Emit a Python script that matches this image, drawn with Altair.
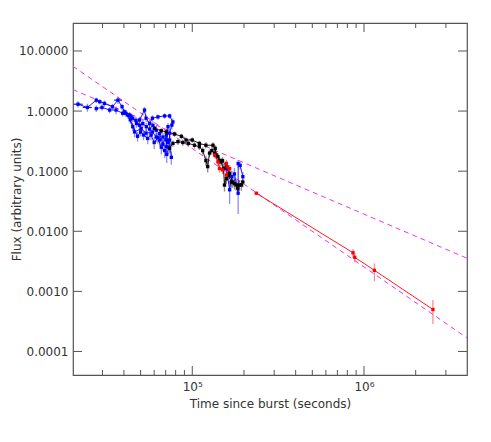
import altair as alt
import pandas as pd

# ---------------- data ----------------
# blue sequence 1 (upper band + loop)
b1_x = [21600, 24500, 27600, 28900, 30800, 34300, 36900, 39000, 40400, 43200, 45000, 47300, 49300,
        52700, 53800, 56400, 58600, 63100, 69000, 73800, 77100, 76000, 73800, 73800, 75500]
b1_y = [1.30, 1.15, 1.52, 1.43, 1.34, 1.18, 1.52, 1.18, 0.97, 0.86, 0.76, 0.62, 0.71,
        1.04, 0.76, 0.62, 0.76, 0.80, 0.83, 0.83, 0.66, 0.585, 0.43, 0.33, 0.17]
b1_e = [12, 15, 10, 10, 12, 12, 14, 12, 12, 12, 14, 15, 14, 12, 14, 15, 12, 10, 10, 10, 14, 15, 18, 20, 25]
# blue sequence 2 (lower band)
b2_x = [27600, 29800, 33000, 36000, 39300, 42000, 45000, 46100, 50400, 53800, 58600, 61700, 64500,
        67500, 70600, 70600, 72200]
b2_y = [1.10, 1.15, 1.04, 1.04, 0.92, 0.86, 0.55, 0.45, 0.51, 0.43, 0.45, 0.37, 0.33, 0.37, 0.33, 0.255, 0.55]
b2_e = [12, 12, 12, 15, 12, 12, 15, 18, 15, 18, 15, 18, 20, 18, 20, 22, 15]
# blue sequence 3 (scatter in the middle)
b3_x = [44000, 47000, 49300, 51500, 54000, 56400, 59000, 61700, 64500, 67500, 70600, 72200]
b3_y = [0.80, 0.70, 0.58, 0.62, 0.55, 0.50, 0.58, 0.48, 0.42, 0.28, 0.40, 0.30]
b3_e = [12, 14, 15, 15, 15, 18, 15, 18, 18, 22, 18, 20]
# blue sequence 5 (lower scatter of the cluster)
b5_x = [41000, 43500, 48000, 50000, 52000, 55000, 57500, 60000, 63000, 66000, 69000, 71000, 73000]
b5_y = [0.92, 0.72, 0.38, 0.45, 0.40, 0.35, 0.40, 0.30, 0.36, 0.25, 0.22, 0.19, 0.25]
b5_e = [12, 14, 18, 16, 18, 20, 18, 22, 20, 24, 25, 28, 24]
# blue sequence 4 (late)
b4_x = [158000, 165000, 170000, 176000, 185000, 185000, 190000, 197000]
b4_y = [0.11, 0.049, 0.081, 0.09, 0.043, 0.134, 0.125, 0.081]
b4_e = [20, 42, 25, 25, 55, 15, 15, 20]
# blue horizontal error bars
bx_y = [1.30, 1.15, 1.52]
bx_lo = [20400, 23000, 35000]
bx_hi = [23000, 26000, 39000]

# black sequences
kA_x = [60400, 66000, 70600, 78900, 86400, 92000, 100000, 110000, 120000, 132000, 136000, 138000,
        144000, 150000, 158000, 165000, 172000, 180000, 193000]
kA_y = [0.515, 0.47, 0.45, 0.415, 0.38, 0.33, 0.33, 0.29, 0.27, 0.27, 0.24, 0.185,
        0.15, 0.15, 0.118, 0.092, 0.066, 0.059, 0.059]
kA_e = [10, 10, 10, 10, 10, 10, 10, 10, 12, 12, 12, 14, 15, 15, 15, 18, 20, 20, 20]
kB_x = [73800, 77100, 82500, 88000, 95000, 103000, 110000, 115000, 120000, 123000, 126000, 130000,
        135000, 141000, 147000, 152000, 154000, 158000, 162000, 169000, 176000, 184000, 188000, 197000]
kB_y = [0.24, 0.29, 0.31, 0.30, 0.29, 0.27, 0.255, 0.22, 0.15, 0.119, 0.20, 0.22,
        0.20, 0.175, 0.143, 0.111, 0.0587, 0.075, 0.085, 0.066, 0.062, 0.052, 0.0587, 0.066]
kB_e = [15, 12, 12, 12, 12, 12, 12, 14, 18, 20, 14, 14, 14, 15, 15, 18, 22, 18, 18, 20, 20, 22, 20, 18]

# red sequences
r1_x = [135000, 141000, 144000, 150000, 158000, 160000, 158000, 165000]
r1_y = [0.185, 0.143, 0.111, 0.105, 0.135, 0.118, 0.086, 0.11]
r1_e = [12, 15, 15, 15, 15, 15, 18, 15]
r2_x = [236000, 863000, 884000, 1150000, 2520000]
r2_y = [0.043, 0.00439, 0.00368, 0.00224, 0.00050]
r2_lo = [0.041, 0.00358, 0.00304, 0.00148, 0.000286]
r2_hi = [0.045, 0.00506, 0.00429, 0.00292, 0.00072]

# power-law guide lines (values at the plot edges)
pl_x = [20200, 3980000]
plA_y = [5.56, 0.000168]
plB_y = [2.28, 0.00356]

# axis ticks
x_major = [1e5, 1e6]
x_minor = [3e4, 4e4, 5e4, 6e4, 7e4, 8e4, 9e4, 2e5, 3e5, 4e5, 5e5, 6e5, 7e5, 8e5, 9e5, 2e6, 3e6]
y_major = [1e-4, 1e-3, 1e-2, 1e-1, 1, 10]

# ---------------- build tables ----------------
rows = []
def add(series, seg, xs_, ys_, lo=None, hi=None, pct=None):
    for i, (a, b) in enumerate(zip(xs_, ys_)):
        if pct is not None:
            l, h = b * (1 - pct[i] / 100), b * (1 + pct[i] / 100)
        else:
            l, h = lo[i], hi[i]
        rows.append(dict(x=a, y=b, lo=l, hi=h, series=series, seg=seg, order=i))

add("blue", "b1", b1_x, b1_y, pct=b1_e)
add("blue", "b2", b2_x, b2_y, pct=b2_e)
add("blue", "b3", b3_x, b3_y, pct=b3_e)
add("blue", "b5", b5_x, b5_y, pct=b5_e)
add("blue", "b4", b4_x, b4_y, pct=b4_e)
add("black", "kA", kA_x, kA_y, pct=kA_e)
add("black", "kB", kB_x, kB_y, pct=kB_e)
add("red", "r1", r1_x, r1_y, pct=r1_e)
add("red", "r2", r2_x, r2_y, lo=r2_lo, hi=r2_hi)
df = pd.DataFrame(rows)

dfx = pd.DataFrame(dict(x=bx_lo, x2=bx_hi, y=bx_y, series=["blue"] * 3))
dpl = pd.DataFrame(dict(x=pl_x * 2, y=plA_y + plB_y, seg=["A", "A", "B", "B"]))

W, H = 394, 352
XDOM = [20200, 3980000]
YDOM = [4.06e-5, 29.2]
AX = "#555555"
TXT = "#333333"
FONT = "DejaVu Sans"

xs = alt.Scale(type="log", domain=XDOM, nice=False)
ys = alt.Scale(type="log", domain=YDOM, nice=False)

xaxis = alt.Axis(values=x_major, labelExpr="datum.value < 500000 ? '10⁵' : '10⁶'",
                 title="Time since burst (seconds)", ticks=False, domain=False, grid=False,
                 labelPadding=6, labelFontSize=12, titleFontSize=12, labelColor=TXT, titleColor=TXT,
                 labelFont=FONT, titleFont=FONT, titleFontWeight="normal",
                 titleY=28, titleBaseline="middle")
yaxis = alt.Axis(values=y_major, format=".4f", title="Flux (arbitrary units)",
                 ticks=False, domain=False, grid=False, labelPadding=5,
                 labelFontSize=12, titleFontSize=12, labelColor=TXT, titleColor=TXT,
                 labelFont=FONT, titleFont=FONT, titleFontWeight="normal",
                 titleX=-57, titleY=H / 2, titleAngle=-90, titleAlign="center", titleBaseline="middle")

X = alt.X("x:Q", scale=xs, axis=xaxis)
Y = alt.Y("y:Q", scale=ys, axis=yaxis)
col = alt.Color("series:N", scale=alt.Scale(domain=["blue", "black", "red"],
                                            range=["#0000ff", "#000000", "#ff0000"]), legend=None)

err = alt.Chart(df).mark_rule(strokeWidth=1.3, opacity=0.45).encode(
    x=X, y=alt.Y("lo:Q", scale=ys, axis=yaxis), y2="hi:Q", color=col)
xerr = alt.Chart(dfx).mark_rule(strokeWidth=1.2, opacity=0.9).encode(
    x=X, x2="x2:Q", y=Y, color=col)
lines = alt.Chart(df).mark_line(strokeWidth=0.9, clip=True).encode(
    x=X, y=Y, detail="seg:N", order="order:Q", color=col)
pts = alt.Chart(df).mark_square(size=11, opacity=1).encode(x=X, y=Y, color=col)
pl = alt.Chart(dpl).mark_line(color="#ee33ee", strokeWidth=1, strokeDash=[5, 4], clip=True).encode(
    x=X, y=Y, detail="seg:N")

dxM = pd.DataFrame(dict(x=x_major))
dxm = pd.DataFrame(dict(x=x_minor))
dyM = pd.DataFrame(dict(y=y_major))
tk = dict(color=AX, strokeWidth=1)
ticks = [
    alt.Chart(dxM).mark_rule(**tk).encode(x=X, y=alt.value(H), y2=alt.value(H - 9)),
    alt.Chart(dxM).mark_rule(**tk).encode(x=X, y=alt.value(0), y2=alt.value(9)),
    alt.Chart(dxm).mark_rule(**tk).encode(x=X, y=alt.value(H), y2=alt.value(H - 5)),
    alt.Chart(dxm).mark_rule(**tk).encode(x=X, y=alt.value(0), y2=alt.value(5)),
    alt.Chart(dyM).mark_rule(**tk).encode(y=Y, x=alt.value(0), x2=alt.value(9)),
    alt.Chart(dyM).mark_rule(**tk).encode(y=Y, x=alt.value(W), x2=alt.value(W - 9)),
]

chart = alt.layer(pl, err, xerr, lines, pts, *ticks).properties(
    width=W, height=H,
    autosize=alt.AutoSizeParams(type="none"),
    padding={"left": 65, "top": 15, "right": 16, "bottom": 59},
    background="white",
).configure_view(stroke=AX, strokeWidth=1.2)

chart.save("out.html", embed_options={"renderer": "svg", "actions": False})
